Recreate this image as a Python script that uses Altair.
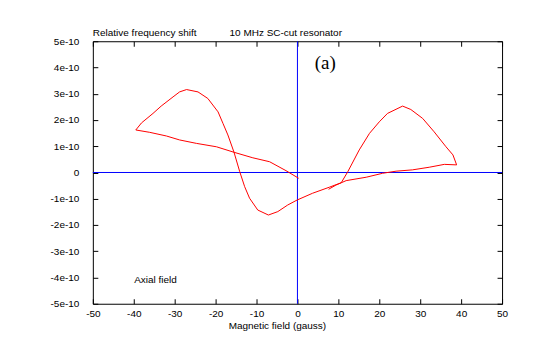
import altair as alt
import pandas as pd

# Magnetic field (gauss) and relative frequency shift (units of 1e-10), in drawing order
field = [0.3, -2.8, -6.8, -10.9, -15.5, -19.8, -24.7, -28.8, -32.0, -36.1, -39.5,
         -38.1, -35.3, -33.3, -30.4, -28.8, -27.1, -24.3, -21.9, -19.4, -18.2, -17.0,
         -15.5, -14.1, -12.9, -11.7, -9.7, -7.1, -4.8, -2.4, -0.1, 3.7, 7.8, 10.7,
         12.3, 15.1, 17.6, 20.0, 22.0, 25.7, 27.7, 30.6, 33.4, 36.3, 38.0, 38.9,
         35.9, 32.2, 28.1, 24.1, 20.8, 16.8, 11.9, 9.4, 7.6]
shift_e10 = [-0.22, 0.07, 0.41, 0.56, 0.77, 0.98, 1.11, 1.24, 1.39, 1.53, 1.62,
             1.89, 2.25, 2.53, 2.88, 3.07, 3.16, 3.07, 2.82, 2.31, 1.87, 1.43,
             0.77, 0.03, -0.54, -0.98, -1.43, -1.62, -1.49, -1.24, -1.05, -0.79, -0.56, -0.39,
             0.03, 0.86, 1.49, 1.93, 2.25, 2.53, 2.40, 2.06, 1.55, 0.98, 0.67, 0.29,
             0.31, 0.20, 0.10, 0.05, -0.03, -0.18, -0.31, -0.48, -0.64]

x_ticks = [-50, -40, -30, -20, -10, 0, 10, 20, 30, 40, 50]
y_ticks = [-5e-10, -4e-10, -3e-10, -2e-10, -1e-10, 0, 1e-10, 2e-10, 3e-10, 4e-10, 5e-10]

curve = pd.DataFrame({
    "x": field,
    "y": [v * 1e-10 for v in shift_e10],
    "i": list(range(len(field))),
})

labels = pd.DataFrame({
    "x": [-50.0, -16.6, -39.9, 6.8, -4.9],
    "y": [5.3e-10, 5.3e-10, -4.11e-10, 4.16e-10, -5.84e-10],
    "t": ["Relative frequency shift", "10 MHz SC-cut resonator", "Axial field", "(a)",
          "Magnetic field (gauss)"],
    "kind": ["sans", "sans", "sans", "serif", "title"],
})

xs = alt.Scale(domain=[-50, 50], nice=False, zero=False)
ys = alt.Scale(domain=[-5e-10, 5e-10], nice=False, zero=False)

minus_fix = "replace(format(datum.value, '{f}'), '\u2212', '-')"

x_bottom = alt.Axis(orient="bottom", values=x_ticks, offset=-5, tickSize=5, domain=False,
                    grid=False, labelPadding=5, labelFont="Liberation Sans", labelFontSize=10,
                    labelColor="black", tickColor="black", title=None, labelFlush=False,
                    labelOverlap=False, labelExpr=minus_fix.format(f="d"))
y_left = alt.Axis(orient="left", values=y_ticks, offset=-5, tickSize=5, domain=False,
                  grid=False, labelPadding=14, labelFont="Liberation Sans", labelFontSize=10,
                  labelColor="black", tickColor="black", title=None, labelFlush=False,
                  labelOverlap=False,
                  labelExpr="datum.value == 0 ? '0' : " + minus_fix.format(f=".0e"))
x_top = alt.Axis(orient="top", values=x_ticks, offset=-5, tickSize=5, domain=False,
                 grid=False, labels=False, tickColor="black", title=None)
y_right = alt.Axis(orient="right", values=y_ticks, offset=-5, tickSize=5, domain=False,
                   grid=False, labels=False, tickColor="black", title=None)

line = alt.Chart(curve).mark_line(color="#ff0000", strokeWidth=1).encode(
    x=alt.X("x:Q", scale=xs, axis=x_bottom),
    y=alt.Y("y:Q", scale=ys, axis=y_left),
    order="i:Q",
)

vline = alt.Chart(pd.DataFrame({"x": [0]})).mark_rule(color="#0000ff", strokeWidth=1).encode(
    x=alt.X("x:Q", scale=xs, axis=x_top),
)
hline = alt.Chart(pd.DataFrame({"y": [0]})).mark_rule(color="#0000ff", strokeWidth=1).encode(
    y=alt.Y("y:Q", scale=ys, axis=y_right),
)

def txt(kind, **kw):
    return alt.Chart(labels).transform_filter(alt.datum.kind == kind).mark_text(
        color="black", baseline="middle", **kw).encode(
        x=alt.X("x:Q", scale=xs, axis=None),
        y=alt.Y("y:Q", scale=ys, axis=None),
        text="t:N",
    )

t_sans = txt("sans", align="left", font="Liberation Sans", fontSize=10)
t_title = txt("title", align="center", font="Liberation Sans", fontSize=10)
t_serif = txt("serif", align="center", font="Liberation Serif", fontSize=19)

chart = alt.layer(hline, vline, line, t_sans, t_title, t_serif).resolve_axis(
    x="independent", y="independent"
).properties(
    width=410, height=263,
    autosize=alt.AutoSizeParams(type="none"),
    padding={"left": 85, "top": 33, "right": 30, "bottom": 30},
    background="white",
).configure_view(stroke="black", strokeWidth=1)

chart.save("out.html", embed_options={"renderer": "svg", "actions": False})
